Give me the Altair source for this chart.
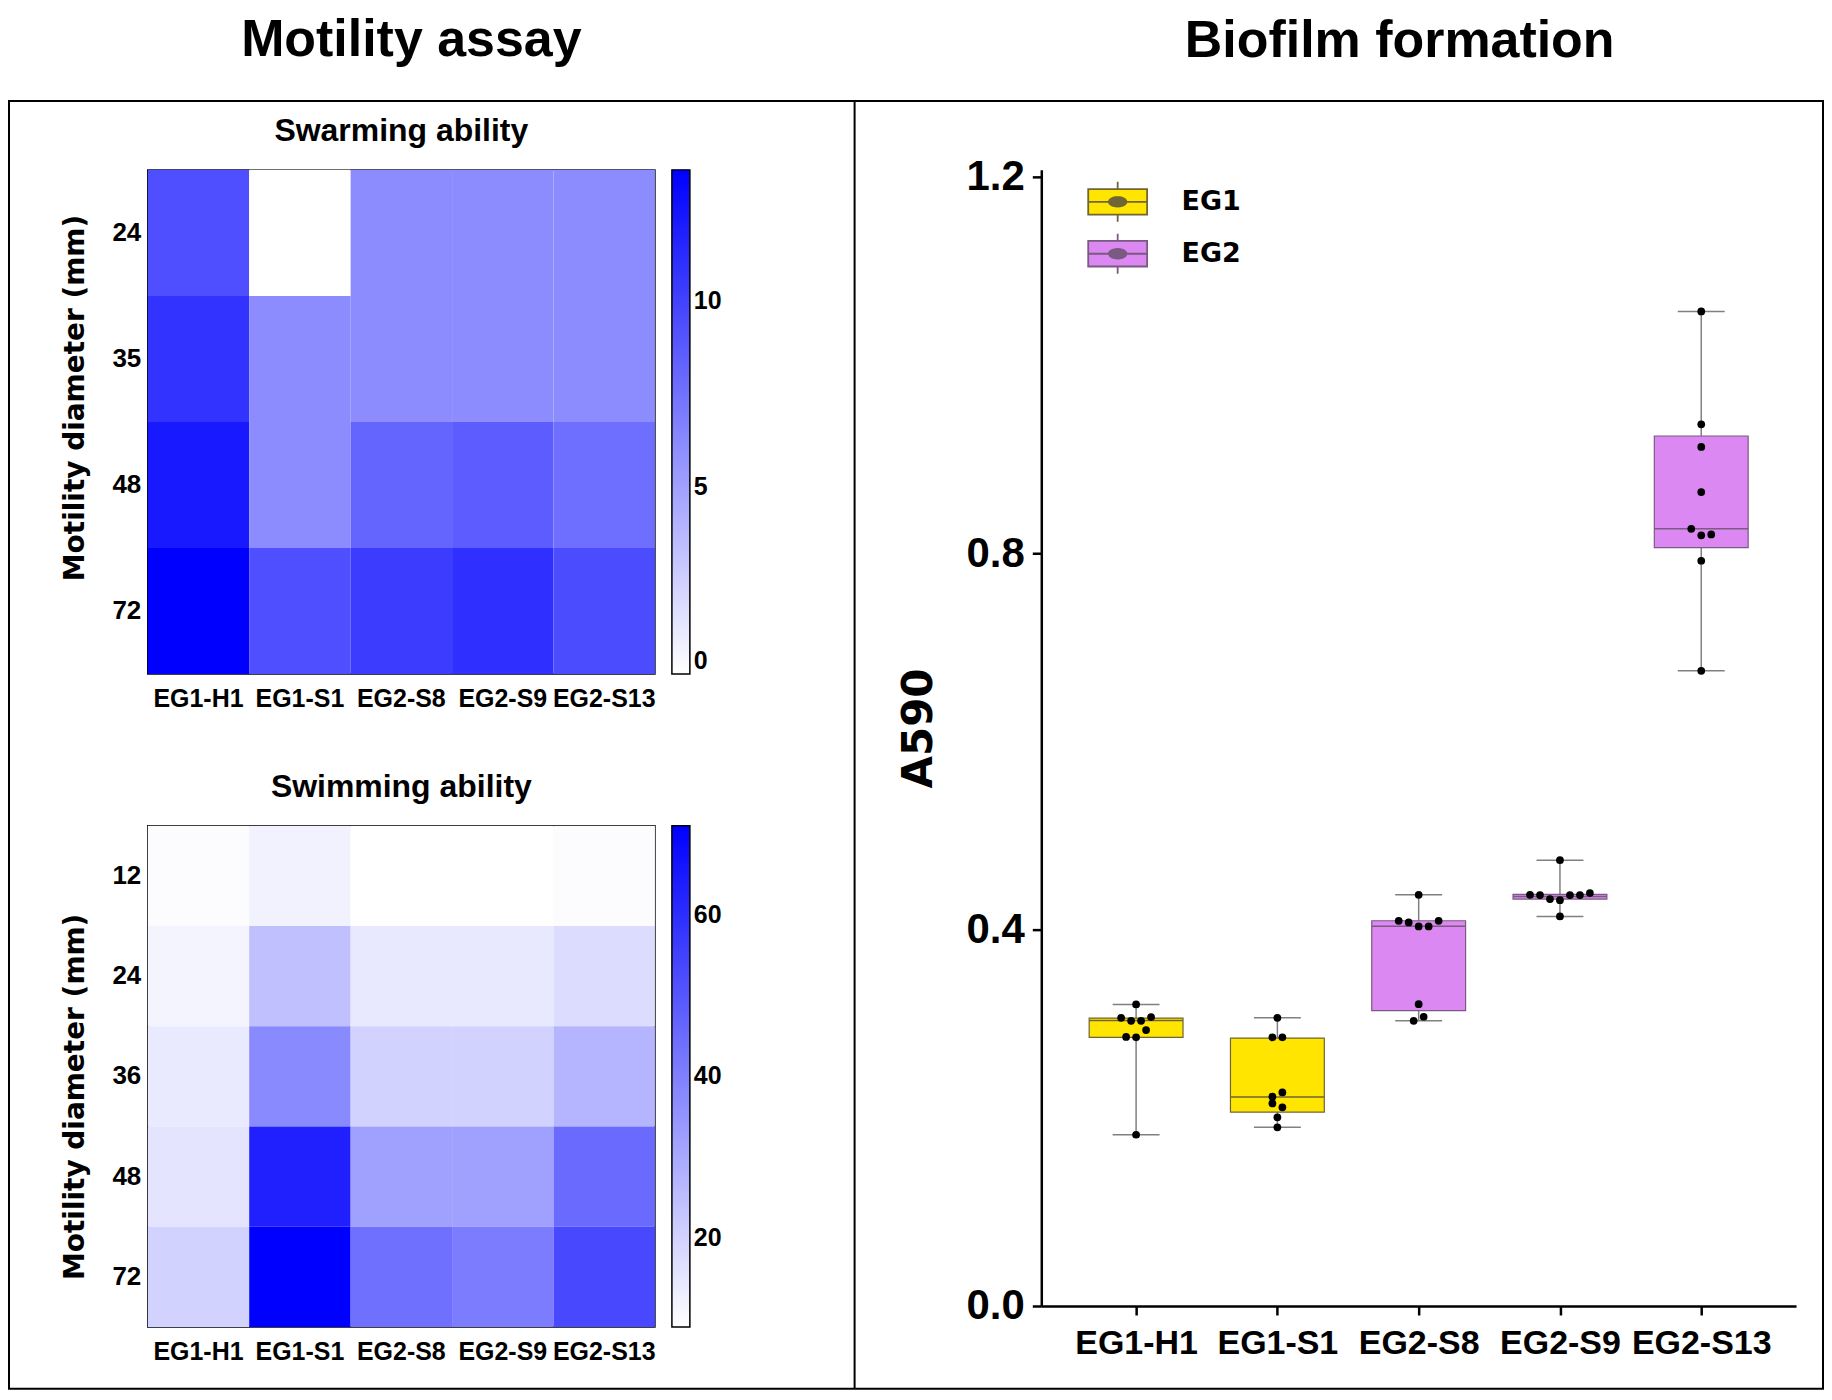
import math
import altair as alt
import pandas as pd

# ---------------- data ----------------
strains = ["EG1-H1", "EG1-S1", "EG2-S8", "EG2-S9", "EG2-S13"]
groups = ["EG1", "EG1", "EG2", "EG2", "EG2"]

# Swarming ability (rows = motility diameter categories)
swarm_rows = ["24", "35", "48", "72"]
swarm_24 = [9.3, 0.0, 6.1, 6.1, 6.1]
swarm_35 = [10.8, 6.1, 6.1, 6.1, 6.1]
swarm_48 = [12.2, 6.1, 8.2, 8.6, 7.7]
swarm_72 = [13.5, 9.3, 10.3, 11.0, 9.5]
swarm_ticks = [0, 5, 10]

# Swimming ability
swim_rows = ["12", "24", "36", "48", "72"]
swim_12 = [9.7, 12.2, 9.0, 9.0, 9.7]
swim_24 = [11.7, 24.3, 14.6, 14.6, 17.5]
swim_36 = [14.1, 37.4, 19.9, 19.9, 27.2]
swim_48 = [15.6, 63.2, 32.1, 32.1, 45.2]
swim_72 = [19.9, 71.0, 43.8, 40.9, 53.5]
swim_ticks = [20, 40, 60]

# Biofilm formation (A590), individual replicates
a590_eg1_h1 = [0.3205, 0.3063, 0.3031, 0.3031, 0.3070, 0.2860, 0.2855, 0.2932, 0.1820]
a590_eg1_s1 = [0.3063, 0.2855, 0.2855, 0.2224, 0.2270, 0.2153, 0.2111, 0.2005, 0.1899]
a590_eg2_s8 = [0.4370, 0.4094, 0.4076, 0.4034, 0.4034, 0.4094, 0.3208, 0.3031, 0.3074]
a590_eg2_s9 = [0.4738, 0.4370, 0.4367, 0.4324, 0.4313, 0.4367, 0.4367, 0.4388, 0.4140]
a590_eg2_s13 = [1.0570, 0.9370, 0.9130, 0.8650, 0.8260, 0.8190, 0.8200, 0.7920, 0.6750]
# box statistics as drawn
box_q1 = [0.2855, 0.2061, 0.3138, 0.4324, 0.8060]
box_med = [0.3035, 0.2220, 0.4037, 0.4353, 0.8260]
box_q3 = [0.3060, 0.2847, 0.4094, 0.4374, 0.9246]
box_lo = [0.1820, 0.1899, 0.3031, 0.4140, 0.6750]
box_hi = [0.3205, 0.3063, 0.4370, 0.4738, 1.0570]
a590_ticks = [0.0, 0.4, 0.8, 1.2]

group_names = ["EG1", "EG2"]
group_fill = ["#FFE500", "#DB88F2"]
group_line = ["#6f6535", "#7a5a80"]

# ---------------- layout constants ----------------
HM_W, HM1_H, HM2_H = 508, 505, 502
BOX_W, BOX_H = 756, 1138
Y_MAX = 1.2074           # top of the drawn axis (1.2 tick sits slightly below)
X_PAD = 0.671            # outer padding of the category axis, in steps
PPU = BOX_H / Y_MAX      # pixels per A590 unit
STEP = BOX_W / (4 + 2 * X_PAD)

LABEL_FONT = "Liberation Sans"
HEAVY_FONT = "DejaVu Sans"


def heat_df(rows, table, field):
    recs = []
    for r, vals in zip(rows, table):
        for s, v in zip(strains, vals):
            recs.append({"strain": s, "row": r, field: v})
    return pd.DataFrame(recs)


def heatmap(df, field, rows, ticks, height, title, title_y):
    vals = df[field]
    return alt.Chart(df).mark_rect().encode(
        x=alt.X("strain:N", sort=strains, axis=alt.Axis(
            title=None, labelAngle=0, ticks=False, domain=False,
            labelFont=LABEL_FONT, labelFontSize=25, labelFontWeight="bold",
            labelColor="black", labelPadding=13, labelOverlap=False,
            labelBound=False)),
        y=alt.Y("row:N", sort=rows, axis=alt.Axis(
            title="Motility diameter (mm)", ticks=False, domain=False,
            labelFont=LABEL_FONT, labelFontSize=26, labelFontWeight="bold",
            labelColor="black", labelPadding=7,
            titleFont=HEAVY_FONT, titleFontSize=28, titleFontWeight="bold",
            titleColor="black", titlePadding=22, titleY=title_y)),
        color=alt.Color(f"{field}:Q", scale=alt.Scale(
            domain=[float(vals.min()), float(vals.max())],
            range=["#ffffff", "#0000ff"], interpolate="rgb"),
            legend=alt.Legend(
                title=None, direction="vertical", gradientLength=height,
                gradientThickness=18, values=ticks, offset=17,
                gradientStrokeColor="black", gradientStrokeWidth=1.5,
                labelFont=LABEL_FONT, labelFontSize=25,
                labelFontWeight="bold", labelColor="black", labelOffset=4)),
    ).properties(
        width=HM_W, height=height,
        view=alt.ViewBackground(stroke="black", strokeWidth=1.5),
        title=alt.TitleParams(title, font=LABEL_FONT, fontSize=32,
                              fontWeight="bold", color="black",
                              anchor="middle", frame="group", offset=22),
    )


df_swarm = heat_df(swarm_rows, [swarm_24, swarm_35, swarm_48, swarm_72], "swarm")
df_swim = heat_df(swim_rows, [swim_12, swim_24, swim_36, swim_48, swim_72], "swim")

h1 = heatmap(df_swarm, "swarm", swarm_rows, swarm_ticks, HM1_H, "Swarming ability", 228)
h2 = heatmap(df_swim, "swim", swim_rows, swim_ticks, HM2_H, "Swimming ability", 271)

left = alt.vconcat(h1, h2, spacing=152, bounds="flush").resolve_scale(
    color="independent").properties(
    title=alt.TitleParams("Motility assay", font=LABEL_FONT, fontSize=52,
                          fontWeight="bold", color="black", anchor="middle",
                          frame="group", dx=264, offset=47))

# ---------------- biofilm box plot ----------------
series = [a590_eg1_h1, a590_eg1_s1, a590_eg2_s8, a590_eg2_s9, a590_eg2_s13]


def swarm_offsets(vals, spacing_px=10, row_px=8):
    order = sorted(range(len(vals)), key=lambda i: -vals[i])
    rows = []
    for i in order:
        if rows and (vals[rows[-1][0]] - vals[i]) * PPU < row_px:
            rows[-1].append(i)
        else:
            rows.append([i])
    off = [0.0] * len(vals)
    for r in rows:
        r = sorted(r)
        n = len(r)
        for k, i in enumerate(r):
            off[i] = (k - (n - 1) / 2) * spacing_px
    return off


pts = []
for idx, (s, vals) in enumerate(zip(strains, series)):
    offs = swarm_offsets(vals)
    for v, o in zip(vals, offs):
        pts.append({"strain": s, "idx": idx, "value": v, "px": idx + o / STEP})
df_pts = pd.DataFrame(pts)

df_box = pd.DataFrame({
    "idx": list(range(len(strains))), "strain": strains, "group": groups,
    "outline": groups,
    "q1": box_q1, "med": box_med, "q3": box_q3, "lo": box_lo, "hi": box_hi,
})

HALF_BOX = 47 / STEP
HALF_CAP = 23.5 / STEP

x_scale = alt.Scale(domain=[-X_PAD, len(strains) - 1 + X_PAD], nice=False, zero=False)
y_scale = alt.Scale(domain=[0, Y_MAX], nice=False, zero=True)
label_expr = "[" + ",".join(f"'{s}'" for s in strains) + "][datum.value]"
x_axis = alt.Axis(title=None, values=list(range(len(strains))), labelExpr=label_expr,
                  grid=False, tickSize=9, tickWidth=2.5, tickColor="black",
                  domainColor="black", domainWidth=2.5, labelFont=LABEL_FONT,
                  labelFontSize=34, labelFontWeight="bold", labelColor="black",
                  labelPadding=12, labelAngle=0)
y_axis = alt.Axis(title="A590", values=a590_ticks, format=".1f", grid=False,
                  tickSize=9, tickWidth=2.5, tickColor="black",
                  domainColor="black", domainWidth=2.5, labelFont=LABEL_FONT,
                  labelFontSize=42, labelFontWeight="bold", labelColor="black",
                  labelPadding=8, titleFont=HEAVY_FONT, titleFontSize=42,
                  titleFontWeight="bold", titleColor="black", titlePadding=26,
                  titleY=559)


def X(field):
    return alt.X(f"{field}:Q", scale=x_scale, axis=x_axis)


def Y(field):
    return alt.Y(f"{field}:Q", scale=y_scale, axis=y_axis)


def ring(rx, ry, n=24):
    p = [(rx * math.cos(2 * math.pi * k / n), ry * math.sin(2 * math.pi * k / n))
         for k in range(n)]
    return "M" + "L".join(f"{a:.3f},{b:.3f}" for a, b in p) + "Z"


# legend glyph: box + median + whiskers + a (densely ringed) dot
LEG_UNIT = 16.5                      # px per path unit
BW, BH, WH = 29.5 / LEG_UNIT, 12.8 / LEG_UNIT, 20.0 / LEG_UNIT
DRX, DRY = 8.8 / LEG_UNIT, 4.8 / LEG_UNIT
ring_scales = [1 - 0.04 * k for k in range(25)]
legend_path = (f"M{-BW:.3f},{-BH:.3f}H{BW:.3f}V{BH:.3f}H{-BW:.3f}Z "
               f"M0,{-BH:.3f}V{-WH:.3f} M0,{BH:.3f}V{WH:.3f} "
               f"M{-BW:.3f},0H{BW:.3f} "
               + " ".join(ring(DRX * f, DRY * f) for f in ring_scales))

base_box = alt.Chart(df_box).transform_calculate(
    bl=f"datum.idx - {HALF_BOX}", br=f"datum.idx + {HALF_BOX}",
    cl=f"datum.idx - {HALF_CAP}", cr=f"datum.idx + {HALF_CAP}")

line_scale = alt.Scale(domain=group_names, range=group_line)

whisker = base_box.mark_rule(color="#808080", strokeWidth=1.5).encode(
    x=X("idx"), y=Y("lo"), y2="hi")
cap_lo = base_box.mark_rule(color="#808080", strokeWidth=1.5).encode(
    x=X("cl"), x2="cr", y=Y("lo"))
cap_hi = base_box.mark_rule(color="#808080", strokeWidth=1.5).encode(
    x=X("cl"), x2="cr", y=Y("hi"))
boxes = base_box.mark_rect(strokeWidth=0).encode(
    x=X("bl"), x2="br", y=Y("q1"), y2="q3",
    fill=alt.Fill("group:N", scale=alt.Scale(domain=group_names, range=group_fill),
                  legend=alt.Legend(
                      title=None, orient="none", legendX=59, legendY=14.5,
                      direction="vertical", symbolType=legend_path,
                      symbolSize=(2 * LEG_UNIT) ** 2, symbolStrokeColor="#000000",
                      symbolStrokeWidth=1.8, symbolOpacity=1,
                      labelFont=HEAVY_FONT, labelFontSize=27,
                      labelFontWeight="bold", labelColor="black",
                      labelOffset=46.5, rowPadding=3)))
outlines = base_box.mark_rect(fillOpacity=0, strokeWidth=1.2).encode(
    x=X("bl"), x2="br", y=Y("q1"), y2="q3",
    stroke=alt.Stroke("outline:N", scale=line_scale, legend=None))
median = base_box.mark_rule(strokeWidth=1.5).encode(
    x=X("bl"), x2="br", y=Y("med"),
    stroke=alt.Stroke("outline:N", scale=line_scale, legend=None))
dots = alt.Chart(df_pts).mark_circle(color="black", size=60, opacity=1).encode(
    x=X("px"), y=Y("value"))

one = pd.DataFrame({"k": [0]})
frame = alt.Chart(one).mark_rect(fillOpacity=0, stroke="black", strokeWidth=2).encode(
    x=alt.value(-1034), x2=alt.value(783), y=alt.value(-69), y2=alt.value(1221))
divider = alt.Chart(one).mark_rule(color="black", strokeWidth=2).encode(
    x=alt.value(-187), y=alt.value(-69), y2=alt.value(1221))

right = alt.layer(frame, divider, whisker, cap_lo, cap_hi, boxes, outlines, median,
                  dots).properties(
    width=BOX_W, height=BOX_H,
    title=alt.TitleParams("Biofilm formation", font=LABEL_FONT, fontSize=52,
                          fontWeight="bold", color="black", anchor="middle",
                          frame="group", dx=-19, offset=32))

chart = alt.hconcat(left, right, spacing=HM_W + 387, bounds="flush").resolve_scale(
    fill="independent", stroke="independent").properties(
    padding={"left": 0, "top": 5, "right": 0, "bottom": 0},
    background="white").configure_view(stroke=None)

chart.save("out.html", embed_options={"renderer": "svg", "actions": False})
